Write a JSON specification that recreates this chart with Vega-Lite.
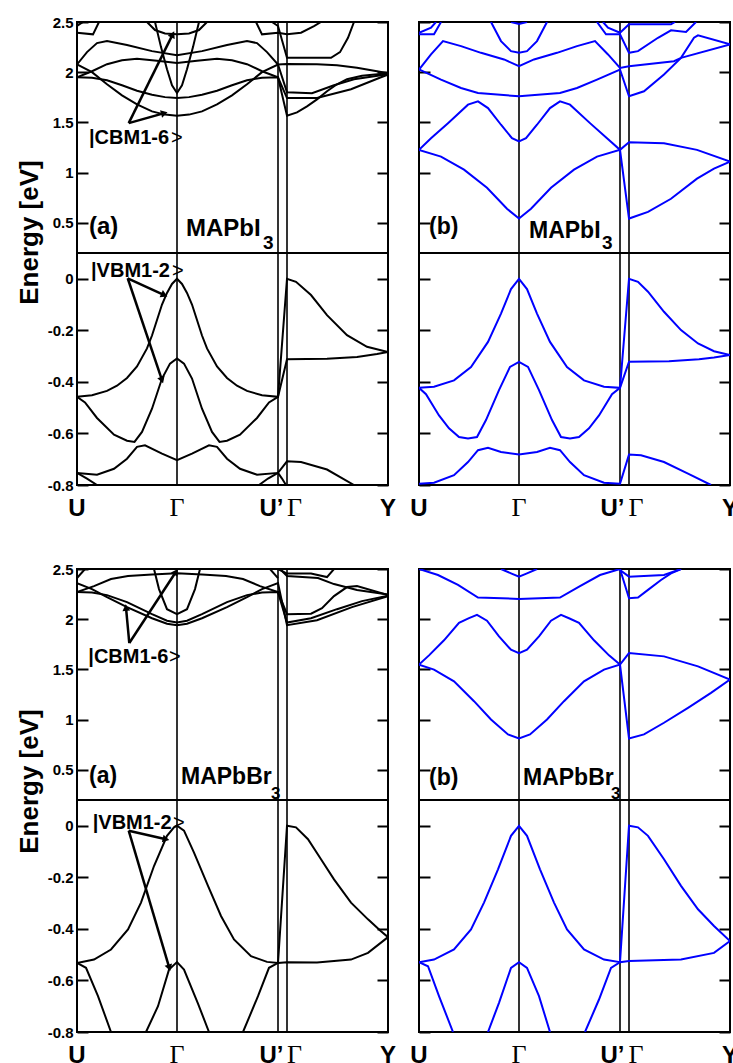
{
"$schema": "https://vega.github.io/schema/vega-lite/v6.json",
"background": "white",
"padding": {"left": 15, "top": 14, "right": 0, "bottom": 0},
"config": {"view": {"stroke": "black", "strokeWidth": 2}, "axis": {"labelColor": "black", "tickColor": "black"}},
"datasets": {
"kpath": [{"x":1},{"x":2.01},{"x":2.1}],
"klabSans": [{"col":"a","text":"U","x":0},{"col":"a","text":"U’","x":1.945},{"col":"a","text":"Y","x":3.11},{"col":"b","text":"U","x":0},{"col":"b","text":"U’","x":1.935},{"col":"b","text":"Y","x":3.11}],
"klabSerif": [{"col":"a","text":"Γ","x":1},{"col":"a","text":"Γ","x":2.175},{"col":"b","text":"Γ","x":1},{"col":"b","text":"Γ","x":2.17}],
"titles": [
{"fig":"I","col":"a","text":"(a)","x":0.12,"e":0.389},{"fig":"I","col":"a","text":"MAPbI","x":1.09,"e":0.369},
{"fig":"I","col":"b","text":"(b)","x":0.10,"e":0.389},{"fig":"I","col":"b","text":"MAPbI","x":1.10,"e":0.352},
{"fig":"Br","col":"a","text":"(a)","x":0.12,"e":0.372},{"fig":"Br","col":"a","text":"MAPbBr","x":1.04,"e":0.356},
{"fig":"Br","col":"b","text":"(b)","x":0.10,"e":0.349},{"fig":"Br","col":"b","text":"MAPbBr","x":1.04,"e":0.349}],
"subs": [
{"fig":"I","col":"a","text":"3","x":1.86,"e":0.24},{"fig":"I","col":"b","text":"3","x":1.83,"e":0.24},
{"fig":"Br","col":"a","text":"3","x":1.94,"e":0.205},{"fig":"Br","col":"b","text":"3","x":1.92,"e":0.205}],
"kets": [
{"fig":"I","part":"C","text":"|CBM1-6","x":0.12,"e":1.282},{"fig":"I","part":"V","text":"|VBM1-2","x":0.14,"e":0.008},
{"fig":"Br","part":"C","text":"|CBM1-6","x":0.113,"e":1.561},{"fig":"Br","part":"V","text":"|VBM1-2","x":0.157,"e":-0.014}],
"ketends": [
{"fig":"I","part":"C","text":">","x":0.94,"e":1.282},{"fig":"I","part":"V","text":">","x":0.95,"e":0.008},
{"fig":"Br","part":"C","text":">","x":0.92,"e":1.561},{"fig":"Br","part":"V","text":">","x":0.96,"e":-0.014}],
"arrows": [
{"fig":"I","part":"C","x":0.517,"e":1.493,"x2":0.957,"e2":2.377,"angle":26.5},
{"fig":"I","part":"C","x":0.517,"e":1.493,"x2":0.873,"e2":1.593,"angle":74.3},
{"fig":"I","part":"V","x":0.507,"e":0.002,"x2":0.873,"e2":-0.063,"angle":114.5},
{"fig":"I","part":"V","x":0.507,"e":0.002,"x2":0.85,"e2":-0.393,"angle":161.4},
{"fig":"Br","part":"C","x":0.523,"e":1.763,"x2":0.49,"e2":2.116,"angle":-5.3},
{"fig":"Br","part":"C","x":0.523,"e":1.763,"x2":0.99,"e2":2.473,"angle":33.1},
{"fig":"Br","part":"V","x":0.517,"e":-0.019,"x2":0.89,"e2":-0.052,"angle":102.5},
{"fig":"Br","part":"V","x":0.517,"e":-0.019,"x2":0.923,"e2":-0.551,"angle":163.4}],
"IaC": [
{"band":1,"x":0,"e":2.077},{"band":1,"x":0.15,"e":2.0},{"band":1,"x":0.3,"e":1.88},{"band":1,"x":0.45,"e":1.77},{"band":1,"x":0.6,"e":1.68},{"band":1,"x":0.75,"e":1.61},{"band":1,"x":0.88,"e":1.578},{"band":1,"x":1.0,"e":1.567},{"band":1,"x":1.12,"e":1.578},{"band":1,"x":1.25,"e":1.61},{"band":1,"x":1.4,"e":1.68},{"band":1,"x":1.55,"e":1.77},{"band":1,"x":1.7,"e":1.88},{"band":1,"x":1.85,"e":2.0},{"band":1,"x":2.01,"e":2.077},{"band":1,"x":2.1,"e":2.083},{"band":1,"x":2.4,"e":2.08},{"band":1,"x":2.6,"e":2.07},{"band":1,"x":2.8,"e":2.045},{"band":1,"x":3.0,"e":2.01},{"band":1,"x":3.11,"e":1.99},
{"band":2,"x":0,"e":1.95},{"band":2,"x":0.15,"e":1.945},{"band":2,"x":0.3,"e":1.92},{"band":2,"x":0.45,"e":1.87},{"band":2,"x":0.6,"e":1.815},{"band":2,"x":0.75,"e":1.775},{"band":2,"x":0.88,"e":1.752},{"band":2,"x":1.0,"e":1.743},{"band":2,"x":1.12,"e":1.752},{"band":2,"x":1.25,"e":1.775},{"band":2,"x":1.4,"e":1.815},{"band":2,"x":1.55,"e":1.87},{"band":2,"x":1.7,"e":1.92},{"band":2,"x":1.85,"e":1.945},{"band":2,"x":2.01,"e":1.95},{"band":2,"x":2.1,"e":1.567},{"band":2,"x":2.2,"e":1.6},{"band":2,"x":2.3,"e":1.66},{"band":2,"x":2.4,"e":1.73},{"band":2,"x":2.5,"e":1.81},{"band":2,"x":2.6,"e":1.88},{"band":2,"x":2.7,"e":1.93},{"band":2,"x":2.85,"e":1.965},{"band":2,"x":3.11,"e":1.99},
{"band":3,"x":0,"e":2.077},{"band":3,"x":0.1,"e":2.2},{"band":3,"x":0.2,"e":2.29},{"band":3,"x":0.3,"e":2.31},{"band":3,"x":0.5,"e":2.27},{"band":3,"x":0.75,"e":2.21},{"band":3,"x":1.0,"e":2.17},{"band":3,"x":1.25,"e":2.21},{"band":3,"x":1.5,"e":2.27},{"band":3,"x":1.7,"e":2.31},{"band":3,"x":1.8,"e":2.29},{"band":3,"x":1.9,"e":2.2},{"band":3,"x":2.01,"e":2.077},{"band":3,"x":2.1,"e":1.8},{"band":3,"x":2.35,"e":1.79},{"band":3,"x":2.57,"e":1.87},{"band":3,"x":2.77,"e":1.93},{"band":3,"x":3.04,"e":1.97},{"band":3,"x":3.11,"e":1.98},
{"band":4,"x":0,"e":1.95},{"band":4,"x":0.15,"e":2.01},{"band":4,"x":0.3,"e":2.08},{"band":4,"x":0.45,"e":2.12},{"band":4,"x":0.6,"e":2.135},{"band":4,"x":0.8,"e":2.115},{"band":4,"x":1.0,"e":2.093},{"band":4,"x":1.2,"e":2.115},{"band":4,"x":1.4,"e":2.135},{"band":4,"x":1.55,"e":2.12},{"band":4,"x":1.7,"e":2.08},{"band":4,"x":1.85,"e":2.01},{"band":4,"x":2.01,"e":1.95},{"band":4,"x":2.1,"e":1.743},{"band":4,"x":2.4,"e":1.743},{"band":4,"x":2.74,"e":1.83},{"band":4,"x":3.04,"e":1.95},{"band":4,"x":3.11,"e":1.975},
{"band":5,"x":0.78,"e":2.5},{"band":5,"x":0.84,"e":2.25},{"band":5,"x":0.9,"e":2.03},{"band":5,"x":0.95,"e":1.87},{"band":5,"x":1.0,"e":1.793},{"band":5,"x":1.05,"e":1.87},{"band":5,"x":1.1,"e":2.03},{"band":5,"x":1.16,"e":2.25},{"band":5,"x":1.22,"e":2.5},
{"band":6,"x":0.7,"e":2.5},{"band":6,"x":0.78,"e":2.42},{"band":6,"x":0.88,"e":2.385},{"band":6,"x":1.0,"e":2.377},{"band":6,"x":1.12,"e":2.385},{"band":6,"x":1.22,"e":2.42},{"band":6,"x":1.3,"e":2.5},
{"band":7,"x":0,"e":2.393},{"band":7,"x":0.16,"e":2.377},{"band":7,"x":0.22,"e":2.5},
{"band":8,"x":0,"e":2.46},{"band":8,"x":0.06,"e":2.5},
{"band":9,"x":1.79,"e":2.5},{"band":9,"x":1.85,"e":2.377},{"band":9,"x":2.01,"e":2.393},{"band":9,"x":2.1,"e":2.377},{"band":9,"x":2.24,"e":2.393},{"band":9,"x":2.37,"e":2.46},{"band":9,"x":2.44,"e":2.5},
{"band":10,"x":1.95,"e":2.5},{"band":10,"x":2.01,"e":2.46},{"band":10,"x":2.1,"e":2.143},{"band":10,"x":2.54,"e":2.143},{"band":10,"x":2.63,"e":2.2},{"band":10,"x":2.71,"e":2.343},{"band":10,"x":2.77,"e":2.5}],
"IaV": [
{"band":1,"x":0,"e":-0.458},{"band":1,"x":0.15,"e":-0.452},{"band":1,"x":0.3,"e":-0.435},{"band":1,"x":0.4,"e":-0.415},{"band":1,"x":0.5,"e":-0.385},{"band":1,"x":0.6,"e":-0.34},{"band":1,"x":0.7,"e":-0.27},{"band":1,"x":0.75,"e":-0.22},{"band":1,"x":0.8,"e":-0.16},{"band":1,"x":0.85,"e":-0.1},{"band":1,"x":0.9,"e":-0.055},{"band":1,"x":0.95,"e":-0.02},{"band":1,"x":1.0,"e":0},{"band":1,"x":1.05,"e":-0.02},{"band":1,"x":1.1,"e":-0.055},{"band":1,"x":1.15,"e":-0.1},{"band":1,"x":1.2,"e":-0.16},{"band":1,"x":1.25,"e":-0.22},{"band":1,"x":1.3,"e":-0.27},{"band":1,"x":1.4,"e":-0.34},{"band":1,"x":1.5,"e":-0.385},{"band":1,"x":1.6,"e":-0.415},{"band":1,"x":1.7,"e":-0.435},{"band":1,"x":1.85,"e":-0.452},{"band":1,"x":2.01,"e":-0.458},{"band":1,"x":2.1,"e":0},{"band":1,"x":2.19,"e":-0.012},{"band":1,"x":2.34,"e":-0.063},{"band":1,"x":2.5,"e":-0.141},{"band":1,"x":2.7,"e":-0.219},{"band":1,"x":2.9,"e":-0.264},{"band":1,"x":3.11,"e":-0.284},
{"band":2,"x":0,"e":-0.458},{"band":2,"x":0.08,"e":-0.48},{"band":2,"x":0.2,"e":-0.54},{"band":2,"x":0.37,"e":-0.605},{"band":2,"x":0.5,"e":-0.628},{"band":2,"x":0.575,"e":-0.633},{"band":2,"x":0.65,"e":-0.594},{"band":2,"x":0.75,"e":-0.504},{"band":2,"x":0.85,"e":-0.387},{"band":2,"x":0.93,"e":-0.329},{"band":2,"x":1.0,"e":-0.309},{"band":2,"x":1.07,"e":-0.329},{"band":2,"x":1.15,"e":-0.387},{"band":2,"x":1.25,"e":-0.504},{"band":2,"x":1.35,"e":-0.594},{"band":2,"x":1.425,"e":-0.633},{"band":2,"x":1.5,"e":-0.628},{"band":2,"x":1.63,"e":-0.605},{"band":2,"x":1.8,"e":-0.54},{"band":2,"x":1.92,"e":-0.48},{"band":2,"x":2.01,"e":-0.458},{"band":2,"x":2.1,"e":-0.312},{"band":2,"x":2.5,"e":-0.31},{"band":2,"x":2.8,"e":-0.303},{"band":2,"x":3.0,"e":-0.292},{"band":2,"x":3.11,"e":-0.284},
{"band":3,"x":0,"e":-0.753},{"band":3,"x":0.2,"e":-0.76},{"band":3,"x":0.37,"e":-0.737},{"band":3,"x":0.5,"e":-0.698},{"band":3,"x":0.6,"e":-0.652},{"band":3,"x":0.68,"e":-0.646},{"band":3,"x":0.85,"e":-0.678},{"band":3,"x":1.0,"e":-0.704},{"band":3,"x":1.15,"e":-0.678},{"band":3,"x":1.32,"e":-0.646},{"band":3,"x":1.4,"e":-0.652},{"band":3,"x":1.5,"e":-0.698},{"band":3,"x":1.63,"e":-0.737},{"band":3,"x":1.8,"e":-0.76},{"band":3,"x":2.01,"e":-0.753},{"band":3,"x":2.1,"e":-0.708},{"band":3,"x":2.24,"e":-0.711},{"band":3,"x":2.5,"e":-0.74},{"band":3,"x":2.77,"e":-0.8},
{"band":4,"x":0,"e":-0.753},{"band":4,"x":0.1,"e":-0.775},{"band":4,"x":0.2,"e":-0.8},
{"band":5,"x":1.82,"e":-0.8},{"band":5,"x":1.91,"e":-0.775},{"band":5,"x":2.01,"e":-0.753},{"band":5,"x":2.05,"e":-0.775},{"band":5,"x":2.09,"e":-0.8}],
"IbC": [
{"band":1,"x":0,"e":1.227},{"band":1,"x":0.22,"e":1.16},{"band":1,"x":0.45,"e":1.03},{"band":1,"x":0.68,"e":0.85},{"band":1,"x":0.88,"e":0.64},{"band":1,"x":1.0,"e":0.543},{"band":1,"x":1.12,"e":0.64},{"band":1,"x":1.32,"e":0.85},{"band":1,"x":1.55,"e":1.03},{"band":1,"x":1.78,"e":1.16},{"band":1,"x":2.01,"e":1.227},{"band":1,"x":2.1,"e":0.543},{"band":1,"x":2.29,"e":0.61},{"band":1,"x":2.52,"e":0.74},{"band":1,"x":2.78,"e":0.94},{"band":1,"x":2.95,"e":1.04},{"band":1,"x":3.11,"e":1.11},
{"band":2,"x":0,"e":1.227},{"band":2,"x":0.12,"e":1.343},{"band":2,"x":0.29,"e":1.493},{"band":2,"x":0.49,"e":1.677},{"band":2,"x":0.59,"e":1.71},{"band":2,"x":0.69,"e":1.643},{"band":2,"x":0.82,"e":1.477},{"band":2,"x":0.93,"e":1.343},{"band":2,"x":1.0,"e":1.31},{"band":2,"x":1.07,"e":1.343},{"band":2,"x":1.18,"e":1.477},{"band":2,"x":1.31,"e":1.643},{"band":2,"x":1.41,"e":1.71},{"band":2,"x":1.51,"e":1.677},{"band":2,"x":1.71,"e":1.493},{"band":2,"x":1.88,"e":1.343},{"band":2,"x":2.01,"e":1.227},{"band":2,"x":2.1,"e":1.303},{"band":2,"x":2.45,"e":1.293},{"band":2,"x":2.78,"e":1.227},{"band":2,"x":3.11,"e":1.11},
{"band":3,"x":0,"e":2.027},{"band":3,"x":0.22,"e":1.927},{"band":3,"x":0.42,"e":1.843},{"band":3,"x":0.59,"e":1.793},{"band":3,"x":1.0,"e":1.76},{"band":3,"x":1.41,"e":1.793},{"band":3,"x":1.58,"e":1.843},{"band":3,"x":1.78,"e":1.927},{"band":3,"x":2.01,"e":2.027},{"band":3,"x":2.1,"e":1.76},{"band":3,"x":2.25,"e":1.81},{"band":3,"x":2.45,"e":1.977},{"band":3,"x":2.62,"e":2.143},{"band":3,"x":2.75,"e":2.343},{"band":3,"x":2.79,"e":2.367},{"band":3,"x":3.11,"e":2.277},
{"band":4,"x":0,"e":2.027},{"band":4,"x":0.12,"e":2.177},{"band":4,"x":0.24,"e":2.31},{"band":4,"x":0.42,"e":2.26},{"band":4,"x":0.62,"e":2.193},{"band":4,"x":0.85,"e":2.127},{"band":4,"x":1.0,"e":2.06},{"band":4,"x":1.15,"e":2.127},{"band":4,"x":1.38,"e":2.193},{"band":4,"x":1.58,"e":2.26},{"band":4,"x":1.76,"e":2.31},{"band":4,"x":1.89,"e":2.177},{"band":4,"x":2.01,"e":2.043},{"band":4,"x":2.1,"e":2.06},{"band":4,"x":2.55,"e":2.11},{"band":4,"x":2.62,"e":2.143},{"band":4,"x":3.11,"e":2.277},
{"band":5,"x":0.72,"e":2.5},{"band":5,"x":0.82,"e":2.31},{"band":5,"x":0.92,"e":2.21},{"band":5,"x":1.0,"e":2.193},{"band":5,"x":1.08,"e":2.21},{"band":5,"x":1.18,"e":2.31},{"band":5,"x":1.28,"e":2.5},
{"band":6,"x":0.92,"e":2.5},{"band":6,"x":1.0,"e":2.48},{"band":6,"x":1.08,"e":2.5},
{"band":7,"x":0,"e":2.377},{"band":7,"x":0.15,"e":2.377},{"band":7,"x":0.22,"e":2.5},
{"band":8,"x":0,"e":2.393},{"band":8,"x":0.12,"e":2.443},{"band":8,"x":0.17,"e":2.5},
{"band":9,"x":1.78,"e":2.5},{"band":9,"x":1.87,"e":2.377},{"band":9,"x":2.01,"e":2.377},{"band":9,"x":2.1,"e":2.193},{"band":9,"x":2.19,"e":2.21},{"band":9,"x":2.39,"e":2.343},{"band":9,"x":2.52,"e":2.417},{"band":9,"x":2.67,"e":2.4},{"band":9,"x":2.77,"e":2.5},
{"band":10,"x":1.84,"e":2.5},{"band":10,"x":1.89,"e":2.443},{"band":10,"x":2.01,"e":2.393},{"band":10,"x":2.1,"e":2.477},{"band":10,"x":2.52,"e":2.477},{"band":10,"x":2.56,"e":2.5}],
"IbV": [
{"band":1,"x":0,"e":-0.423},{"band":1,"x":0.15,"e":-0.419},{"band":1,"x":0.35,"e":-0.394},{"band":1,"x":0.52,"e":-0.342},{"band":1,"x":0.69,"e":-0.245},{"band":1,"x":0.82,"e":-0.135},{"band":1,"x":0.92,"e":-0.04},{"band":1,"x":1.0,"e":0},{"band":1,"x":1.08,"e":-0.04},{"band":1,"x":1.18,"e":-0.135},{"band":1,"x":1.31,"e":-0.245},{"band":1,"x":1.48,"e":-0.342},{"band":1,"x":1.65,"e":-0.394},{"band":1,"x":1.85,"e":-0.419},{"band":1,"x":2.01,"e":-0.423},{"band":1,"x":2.1,"e":0},{"band":1,"x":2.19,"e":-0.012},{"band":1,"x":2.29,"e":-0.05},{"band":1,"x":2.45,"e":-0.128},{"band":1,"x":2.62,"e":-0.199},{"band":1,"x":2.79,"e":-0.251},{"band":1,"x":2.95,"e":-0.281},{"band":1,"x":3.11,"e":-0.296},
{"band":2,"x":0,"e":-0.423},{"band":2,"x":0.07,"e":-0.448},{"band":2,"x":0.2,"e":-0.53},{"band":2,"x":0.3,"e":-0.58},{"band":2,"x":0.4,"e":-0.614},{"band":2,"x":0.49,"e":-0.62},{"band":2,"x":0.58,"e":-0.614},{"band":2,"x":0.67,"e":-0.548},{"band":2,"x":0.8,"e":-0.432},{"band":2,"x":0.91,"e":-0.342},{"band":2,"x":1.0,"e":-0.322},{"band":2,"x":1.09,"e":-0.342},{"band":2,"x":1.2,"e":-0.432},{"band":2,"x":1.33,"e":-0.548},{"band":2,"x":1.42,"e":-0.614},{"band":2,"x":1.51,"e":-0.62},{"band":2,"x":1.6,"e":-0.614},{"band":2,"x":1.7,"e":-0.58},{"band":2,"x":1.8,"e":-0.53},{"band":2,"x":1.93,"e":-0.448},{"band":2,"x":2.01,"e":-0.423},{"band":2,"x":2.1,"e":-0.322},{"band":2,"x":2.5,"e":-0.32},{"band":2,"x":2.8,"e":-0.312},{"band":2,"x":2.95,"e":-0.305},{"band":2,"x":3.11,"e":-0.296},
{"band":3,"x":0,"e":-0.795},{"band":3,"x":0.15,"e":-0.791},{"band":3,"x":0.35,"e":-0.762},{"band":3,"x":0.49,"e":-0.711},{"band":3,"x":0.59,"e":-0.665},{"band":3,"x":0.69,"e":-0.656},{"band":3,"x":0.82,"e":-0.672},{"band":3,"x":1.0,"e":-0.682},{"band":3,"x":1.18,"e":-0.672},{"band":3,"x":1.31,"e":-0.656},{"band":3,"x":1.41,"e":-0.665},{"band":3,"x":1.51,"e":-0.711},{"band":3,"x":1.65,"e":-0.762},{"band":3,"x":1.85,"e":-0.791},{"band":3,"x":2.01,"e":-0.795},{"band":3,"x":2.1,"e":-0.682},{"band":3,"x":2.22,"e":-0.685},{"band":3,"x":2.45,"e":-0.711},{"band":3,"x":2.69,"e":-0.756},{"band":3,"x":2.92,"e":-0.8}],
"BraC": [
{"band":1,"x":0,"e":2.36},{"band":1,"x":0.15,"e":2.3},{"band":1,"x":0.3,"e":2.22},{"band":1,"x":0.5,"e":2.12},{"band":1,"x":0.75,"e":2.01},{"band":1,"x":0.9,"e":1.955},{"band":1,"x":1.0,"e":1.941},{"band":1,"x":1.1,"e":1.955},{"band":1,"x":1.25,"e":2.01},{"band":1,"x":1.5,"e":2.12},{"band":1,"x":1.7,"e":2.22},{"band":1,"x":1.85,"e":2.3},{"band":1,"x":2.01,"e":2.36},{"band":1,"x":2.1,"e":1.941},{"band":1,"x":2.4,"e":1.99},{"band":1,"x":2.75,"e":2.12},{"band":1,"x":3.11,"e":2.23},
{"band":2,"x":0,"e":2.27},{"band":2,"x":0.15,"e":2.265},{"band":2,"x":0.3,"e":2.24},{"band":2,"x":0.5,"e":2.17},{"band":2,"x":0.75,"e":2.05},{"band":2,"x":0.9,"e":1.985},{"band":2,"x":1.0,"e":1.967},{"band":2,"x":1.1,"e":1.985},{"band":2,"x":1.25,"e":2.05},{"band":2,"x":1.5,"e":2.17},{"band":2,"x":1.7,"e":2.24},{"band":2,"x":1.85,"e":2.265},{"band":2,"x":2.01,"e":2.27},{"band":2,"x":2.1,"e":2.05},{"band":2,"x":2.34,"e":2.055},{"band":2,"x":2.45,"e":2.11},{"band":2,"x":2.57,"e":2.23},{"band":2,"x":2.7,"e":2.32},{"band":2,"x":2.8,"e":2.33},{"band":2,"x":3.11,"e":2.24},
{"band":3,"x":0,"e":2.27},{"band":3,"x":0.17,"e":2.33},{"band":3,"x":0.34,"e":2.4},{"band":3,"x":0.51,"e":2.43},{"band":3,"x":0.75,"e":2.445},{"band":3,"x":1.0,"e":2.457},{"band":3,"x":1.25,"e":2.445},{"band":3,"x":1.49,"e":2.43},{"band":3,"x":1.66,"e":2.4},{"band":3,"x":1.83,"e":2.33},{"band":3,"x":2.01,"e":2.27},{"band":3,"x":2.1,"e":1.967},{"band":3,"x":2.34,"e":2.01},{"band":3,"x":2.6,"e":2.1},{"band":3,"x":2.85,"e":2.18},{"band":3,"x":3.11,"e":2.235},
{"band":4,"x":0.77,"e":2.5},{"band":4,"x":0.82,"e":2.3},{"band":4,"x":0.9,"e":2.1},{"band":4,"x":1.0,"e":2.05},{"band":4,"x":1.1,"e":2.1},{"band":4,"x":1.18,"e":2.3},{"band":4,"x":1.23,"e":2.5},
{"band":5,"x":2.01,"e":2.5},{"band":5,"x":2.1,"e":2.455},{"band":5,"x":2.34,"e":2.455},{"band":5,"x":2.5,"e":2.42},{"band":5,"x":2.57,"e":2.5},
{"band":6,"x":2.03,"e":2.5},{"band":6,"x":2.1,"e":2.43},{"band":6,"x":2.41,"e":2.41},{"band":6,"x":2.57,"e":2.35},{"band":6,"x":2.8,"e":2.29},{"band":6,"x":3.11,"e":2.245},
{"band":7,"x":0,"e":2.41},{"band":7,"x":0.08,"e":2.5},
{"band":8,"x":1.93,"e":2.5},{"band":8,"x":2.01,"e":2.41}],
"BraV": [
{"band":1,"x":0,"e":-0.532},{"band":1,"x":0.17,"e":-0.519},{"band":1,"x":0.34,"e":-0.48},{"band":1,"x":0.51,"e":-0.402},{"band":1,"x":0.64,"e":-0.298},{"band":1,"x":0.77,"e":-0.156},{"band":1,"x":0.9,"e":-0.039},{"band":1,"x":0.97,"e":-0.006},{"band":1,"x":1.0,"e":0},{"band":1,"x":1.07,"e":-0.019},{"band":1,"x":1.17,"e":-0.104},{"band":1,"x":1.31,"e":-0.233},{"band":1,"x":1.44,"e":-0.35},{"band":1,"x":1.57,"e":-0.441},{"band":1,"x":1.74,"e":-0.506},{"band":1,"x":1.9,"e":-0.528},{"band":1,"x":2.01,"e":-0.532},{"band":1,"x":2.1,"e":0},{"band":1,"x":2.19,"e":-0.006},{"band":1,"x":2.31,"e":-0.052},{"band":1,"x":2.44,"e":-0.13},{"band":1,"x":2.57,"e":-0.208},{"band":1,"x":2.74,"e":-0.298},{"band":1,"x":2.91,"e":-0.363},{"band":1,"x":3.04,"e":-0.409},{"band":1,"x":3.11,"e":-0.432},
{"band":2,"x":0,"e":-0.532},{"band":2,"x":0.09,"e":-0.551},{"band":2,"x":0.21,"e":-0.661},{"band":2,"x":0.34,"e":-0.8},
{"band":3,"x":0.69,"e":-0.8},{"band":3,"x":0.81,"e":-0.7},{"band":3,"x":0.92,"e":-0.558},{"band":3,"x":1.0,"e":-0.529},{"band":3,"x":1.07,"e":-0.558},{"band":3,"x":1.21,"e":-0.69},{"band":3,"x":1.32,"e":-0.8},
{"band":4,"x":1.66,"e":-0.8},{"band":4,"x":1.81,"e":-0.661},{"band":4,"x":1.92,"e":-0.551},{"band":4,"x":2.01,"e":-0.532},{"band":4,"x":2.1,"e":-0.529},{"band":4,"x":2.4,"e":-0.53},{"band":4,"x":2.74,"e":-0.519},{"band":4,"x":2.91,"e":-0.493},{"band":4,"x":3.11,"e":-0.432}],
"BrbC": [
{"band":1,"x":0,"e":1.548},{"band":1,"x":0.15,"e":1.498},{"band":1,"x":0.35,"e":1.382},{"band":1,"x":0.55,"e":1.184},{"band":1,"x":0.72,"e":1.002},{"band":1,"x":0.89,"e":0.853},{"band":1,"x":1.0,"e":0.813},{"band":1,"x":1.11,"e":0.853},{"band":1,"x":1.28,"e":1.002},{"band":1,"x":1.45,"e":1.184},{"band":1,"x":1.65,"e":1.382},{"band":1,"x":1.85,"e":1.498},{"band":1,"x":2.01,"e":1.548},{"band":1,"x":2.1,"e":0.813},{"band":1,"x":2.25,"e":0.853},{"band":1,"x":2.45,"e":0.969},{"band":1,"x":2.69,"e":1.118},{"band":1,"x":2.92,"e":1.267},{"band":1,"x":3.11,"e":1.399},
{"band":2,"x":0,"e":1.548},{"band":2,"x":0.1,"e":1.64},{"band":2,"x":0.25,"e":1.79},{"band":2,"x":0.4,"e":1.965},{"band":2,"x":0.5,"e":2.01},{"band":2,"x":0.58,"e":2.044},{"band":2,"x":0.68,"e":1.985},{"band":2,"x":0.8,"e":1.83},{"band":2,"x":0.92,"e":1.696},{"band":2,"x":1.0,"e":1.663},{"band":2,"x":1.08,"e":1.696},{"band":2,"x":1.2,"e":1.83},{"band":2,"x":1.32,"e":1.985},{"band":2,"x":1.42,"e":2.044},{"band":2,"x":1.5,"e":2.01},{"band":2,"x":1.6,"e":1.965},{"band":2,"x":1.75,"e":1.79},{"band":2,"x":1.9,"e":1.64},{"band":2,"x":2.01,"e":1.548},{"band":2,"x":2.1,"e":1.663},{"band":2,"x":2.45,"e":1.63},{"band":2,"x":2.79,"e":1.531},{"band":2,"x":3.11,"e":1.399},
{"band":3,"x":0,"e":2.5},{"band":3,"x":0.19,"e":2.44},{"band":3,"x":0.39,"e":2.341},{"band":3,"x":0.59,"e":2.216},{"band":3,"x":1.0,"e":2.202},{"band":3,"x":1.41,"e":2.216},{"band":3,"x":1.61,"e":2.33},{"band":3,"x":1.81,"e":2.44},{"band":3,"x":2.01,"e":2.5},{"band":3,"x":2.1,"e":2.209},{"band":3,"x":2.19,"e":2.216},{"band":3,"x":2.29,"e":2.292},{"band":3,"x":2.42,"e":2.391},{"band":3,"x":2.52,"e":2.457},{"band":3,"x":2.62,"e":2.5},
{"band":4,"x":0.82,"e":2.5},{"band":4,"x":0.92,"e":2.457},{"band":4,"x":1.0,"e":2.424},{"band":4,"x":1.08,"e":2.457},{"band":4,"x":1.18,"e":2.5},
{"band":5,"x":2.01,"e":2.49},{"band":5,"x":2.1,"e":2.424},{"band":5,"x":2.45,"e":2.44},{"band":5,"x":2.62,"e":2.5}],
"BrbV": [
{"band":1,"x":0,"e":-0.529},{"band":1,"x":0.15,"e":-0.519},{"band":1,"x":0.35,"e":-0.48},{"band":1,"x":0.52,"e":-0.402},{"band":1,"x":0.65,"e":-0.298},{"band":1,"x":0.79,"e":-0.169},{"band":1,"x":0.92,"e":-0.039},{"band":1,"x":1.0,"e":0},{"band":1,"x":1.08,"e":-0.039},{"band":1,"x":1.21,"e":-0.169},{"band":1,"x":1.35,"e":-0.298},{"band":1,"x":1.48,"e":-0.402},{"band":1,"x":1.65,"e":-0.48},{"band":1,"x":1.85,"e":-0.519},{"band":1,"x":2.01,"e":-0.529},{"band":1,"x":2.1,"e":0},{"band":1,"x":2.19,"e":-0.006},{"band":1,"x":2.29,"e":-0.039},{"band":1,"x":2.45,"e":-0.13},{"band":1,"x":2.62,"e":-0.233},{"band":1,"x":2.79,"e":-0.324},{"band":1,"x":2.95,"e":-0.389},{"band":1,"x":3.11,"e":-0.447},
{"band":2,"x":0,"e":-0.529},{"band":2,"x":0.09,"e":-0.545},{"band":2,"x":0.2,"e":-0.661},{"band":2,"x":0.34,"e":-0.8},
{"band":3,"x":0.69,"e":-0.8},{"band":3,"x":0.8,"e":-0.687},{"band":3,"x":0.92,"e":-0.551},{"band":3,"x":1.0,"e":-0.529},{"band":3,"x":1.08,"e":-0.551},{"band":3,"x":1.2,"e":-0.661},{"band":3,"x":1.31,"e":-0.8},
{"band":4,"x":1.66,"e":-0.8},{"band":4,"x":1.8,"e":-0.674},{"band":4,"x":1.92,"e":-0.551},{"band":4,"x":2.01,"e":-0.529},{"band":4,"x":2.1,"e":-0.525},{"band":4,"x":2.62,"e":-0.519},{"band":4,"x":2.95,"e":-0.493},{"band":4,"x":3.11,"e":-0.447}]
},
"spacing": 39,
"vconcat": [
{"columns": 2, "spacing": {"row": 0, "column": 31}, "bounds": "flush", "concat": [
  {"width": 311, "height": 231, "resolve": {"axis": {"y": "independent"}}, "layer": [
   {"data": {"name": "kpath"}, "mark": {"type": "rule", "color": "black", "strokeWidth": 1.6}, "encoding": {"x": {"field": "x", "type": "quantitative", "scale": {"domain": [0, 3.11], "nice": false, "zero": false}, "axis": null}}},
   {"data": {"name": "IaC"}, "mark": {"type": "line", "color": "black", "strokeWidth": 2, "clip": true}, "encoding": {"x": {"field": "x", "type": "quantitative", "scale": {"domain": [0, 3.11], "nice": false, "zero": false}, "axis": null}, "y": {"field": "e", "type": "quantitative", "scale": {"domain": [0.2, 2.5], "nice": false, "zero": false}, "axis": {"orient": "left", "values": [0.5, 1, 1.5, 2, 2.5], "labelExpr": "'' + datum.value", "tickSize": -11, "tickWidth": 2, "tickColor": "black", "domain": false, "grid": false, "labelFont": "Liberation Sans", "labelFontSize": 15, "labelFontWeight": "bold", "labelColor": "black", "labelPadding": 15, "title": "Energy [eV]", "titleFont": "Liberation Sans", "titleFontSize": 26, "titleFontWeight": "bold", "titleColor": "black", "titleX": -40, "titleY": 210, "titleAngle": -90, "titleAlign": "center", "titleBaseline": "alphabetic"}}, "detail": {"field": "band", "type": "nominal"}}},
   {"data": {"name": "IaC"}, "mark": {"type": "point", "opacity": 0}, "encoding": {"x": {"field": "x", "type": "quantitative", "scale": {"domain": [0, 3.11], "nice": false, "zero": false}, "axis": null}, "y": {"field": "e", "type": "quantitative", "scale": {"domain": [0.2, 2.5], "nice": false, "zero": false}, "axis": {"orient": "right", "values": [0.5, 1, 1.5, 2, 2.5], "labels": false, "tickSize": -11, "tickWidth": 2, "tickColor": "black", "domain": false, "grid": false, "title": null}}}},
   {"data": {"name": "titles"}, "transform": [{"filter": "datum.fig == 'I' && datum.col == 'a'"}], "mark": {"type": "text", "align": "left", "baseline": "alphabetic", "font": "Liberation Sans", "fontSize": 24, "fontWeight": "bold", "color": "black"}, "encoding": {"x": {"field": "x", "type": "quantitative", "scale": {"domain": [0, 3.11], "nice": false, "zero": false}, "axis": null}, "y": {"field": "e", "type": "quantitative", "scale": {"domain": [0.2, 2.5], "nice": false, "zero": false}, "axis": null}, "text": {"field": "text"}}},
   {"data": {"name": "subs"}, "transform": [{"filter": "datum.fig == 'I' && datum.col == 'a'"}], "mark": {"type": "text", "align": "left", "baseline": "alphabetic", "font": "Liberation Sans", "fontSize": 19, "fontWeight": "bold", "color": "black"}, "encoding": {"x": {"field": "x", "type": "quantitative", "scale": {"domain": [0, 3.11], "nice": false, "zero": false}, "axis": null}, "y": {"field": "e", "type": "quantitative", "scale": {"domain": [0.2, 2.5], "nice": false, "zero": false}, "axis": null}, "text": {"field": "text"}}},
   {"data": {"name": "kets"}, "transform": [{"filter": "datum.fig == 'I' && datum.part == 'C'"}], "mark": {"type": "text", "align": "left", "baseline": "alphabetic", "font": "Liberation Sans", "fontSize": 20, "fontWeight": "bold", "color": "black"}, "encoding": {"x": {"field": "x", "type": "quantitative", "scale": {"domain": [0, 3.11], "nice": false, "zero": false}, "axis": null}, "y": {"field": "e", "type": "quantitative", "scale": {"domain": [0.2, 2.5], "nice": false, "zero": false}, "axis": null}, "text": {"field": "text"}}},
   {"data": {"name": "ketends"}, "transform": [{"filter": "datum.fig == 'I' && datum.part == 'C'"}], "mark": {"type": "text", "align": "left", "baseline": "alphabetic", "font": "Liberation Sans", "fontSize": 20, "fontWeight": "normal", "color": "black"}, "encoding": {"x": {"field": "x", "type": "quantitative", "scale": {"domain": [0, 3.11], "nice": false, "zero": false}, "axis": null}, "y": {"field": "e", "type": "quantitative", "scale": {"domain": [0.2, 2.5], "nice": false, "zero": false}, "axis": null}, "text": {"field": "text"}}},
   {"data": {"name": "arrows"}, "transform": [{"filter": "datum.fig == 'I' && datum.part == 'C'"}], "mark": {"type": "rule", "color": "black", "strokeWidth": 2.5}, "encoding": {"x": {"field": "x", "type": "quantitative", "scale": {"domain": [0, 3.11], "nice": false, "zero": false}, "axis": null}, "y": {"field": "e", "type": "quantitative", "scale": {"domain": [0.2, 2.5], "nice": false, "zero": false}, "axis": null}, "x2": {"field": "x2"}, "y2": {"field": "e2"}}},
   {"data": {"name": "arrows"}, "transform": [{"filter": "datum.fig == 'I' && datum.part == 'C'"}], "mark": {"type": "point", "shape": "triangle-up", "filled": true, "color": "black", "opacity": 1, "size": 60}, "encoding": {"x": {"field": "x2", "type": "quantitative", "scale": {"domain": [0, 3.11], "nice": false, "zero": false}, "axis": null}, "y": {"field": "e2", "type": "quantitative", "scale": {"domain": [0.2, 2.5], "nice": false, "zero": false}, "axis": null}, "angle": {"field": "angle", "type": "quantitative", "scale": null}}}
  ]},
  {"width": 311, "height": 231, "resolve": {"axis": {"y": "independent"}}, "layer": [
   {"data": {"name": "kpath"}, "mark": {"type": "rule", "color": "black", "strokeWidth": 1.6}, "encoding": {"x": {"field": "x", "type": "quantitative", "scale": {"domain": [0, 3.11], "nice": false, "zero": false}, "axis": null}}},
   {"data": {"name": "IbC"}, "mark": {"type": "line", "color": "#0000ff", "strokeWidth": 2, "clip": true}, "encoding": {"x": {"field": "x", "type": "quantitative", "scale": {"domain": [0, 3.11], "nice": false, "zero": false}, "axis": null}, "y": {"field": "e", "type": "quantitative", "scale": {"domain": [0.2, 2.5], "nice": false, "zero": false}, "axis": {"orient": "left", "values": [0.5, 1, 1.5, 2, 2.5], "labels": false, "tickSize": -11, "tickWidth": 2, "tickColor": "black", "domain": false, "grid": false, "title": null}}, "detail": {"field": "band", "type": "nominal"}}},
   {"data": {"name": "IbC"}, "mark": {"type": "point", "opacity": 0}, "encoding": {"x": {"field": "x", "type": "quantitative", "scale": {"domain": [0, 3.11], "nice": false, "zero": false}, "axis": null}, "y": {"field": "e", "type": "quantitative", "scale": {"domain": [0.2, 2.5], "nice": false, "zero": false}, "axis": {"orient": "right", "values": [0.5, 1, 1.5, 2, 2.5], "labels": false, "tickSize": -11, "tickWidth": 2, "tickColor": "black", "domain": false, "grid": false, "title": null}}}},
   {"data": {"name": "titles"}, "transform": [{"filter": "datum.fig == 'I' && datum.col == 'b'"}], "mark": {"type": "text", "align": "left", "baseline": "alphabetic", "font": "Liberation Sans", "fontSize": 23, "fontWeight": "bold", "color": "black"}, "encoding": {"x": {"field": "x", "type": "quantitative", "scale": {"domain": [0, 3.11], "nice": false, "zero": false}, "axis": null}, "y": {"field": "e", "type": "quantitative", "scale": {"domain": [0.2, 2.5], "nice": false, "zero": false}, "axis": null}, "text": {"field": "text"}}},
   {"data": {"name": "subs"}, "transform": [{"filter": "datum.fig == 'I' && datum.col == 'b'"}], "mark": {"type": "text", "align": "left", "baseline": "alphabetic", "font": "Liberation Sans", "fontSize": 19, "fontWeight": "bold", "color": "black"}, "encoding": {"x": {"field": "x", "type": "quantitative", "scale": {"domain": [0, 3.11], "nice": false, "zero": false}, "axis": null}, "y": {"field": "e", "type": "quantitative", "scale": {"domain": [0.2, 2.5], "nice": false, "zero": false}, "axis": null}, "text": {"field": "text"}}}
  ]},
  {"width": 311, "height": 232, "resolve": {"axis": {"y": "independent"}}, "layer": [
   {"data": {"name": "kpath"}, "mark": {"type": "rule", "color": "black", "strokeWidth": 1.6}, "encoding": {"x": {"field": "x", "type": "quantitative", "scale": {"domain": [0, 3.11], "nice": false, "zero": false}, "axis": null}}},
   {"data": {"name": "klabSans"}, "transform": [{"filter": "datum.col == 'a'"}], "mark": {"type": "text", "align": "center", "baseline": "alphabetic", "dy": 31, "font": "Liberation Sans", "fontSize": 24, "fontWeight": "bold", "color": "black"}, "encoding": {"x": {"field": "x", "type": "quantitative", "scale": {"domain": [0, 3.11], "nice": false, "zero": false}, "axis": null}, "y": {"datum": -0.8, "type": "quantitative", "scale": {"domain": [-0.8, 0.1], "nice": false, "zero": false}, "axis": null}, "text": {"field": "text"}}},
   {"data": {"name": "klabSerif"}, "transform": [{"filter": "datum.col == 'a'"}], "mark": {"type": "text", "align": "center", "baseline": "alphabetic", "dy": 31, "font": "Liberation Serif", "fontSize": 26, "fontWeight": "normal", "color": "black"}, "encoding": {"x": {"field": "x", "type": "quantitative", "scale": {"domain": [0, 3.11], "nice": false, "zero": false}, "axis": null}, "y": {"datum": -0.8, "type": "quantitative", "scale": {"domain": [-0.8, 0.1], "nice": false, "zero": false}, "axis": null}, "text": {"field": "text"}}},
   {"data": {"name": "IaV"}, "mark": {"type": "line", "color": "black", "strokeWidth": 2, "clip": true}, "encoding": {"x": {"field": "x", "type": "quantitative", "scale": {"domain": [0, 3.11], "nice": false, "zero": false}, "axis": null}, "y": {"field": "e", "type": "quantitative", "scale": {"domain": [-0.8, 0.1], "nice": false, "zero": false}, "axis": {"orient": "left", "values": [-0.8, -0.6, -0.4, -0.2, 0], "labelExpr": "'' + datum.value", "tickSize": -11, "tickWidth": 2, "tickColor": "black", "domain": false, "grid": false, "labelFont": "Liberation Sans", "labelFontSize": 15, "labelFontWeight": "bold", "labelColor": "black", "labelPadding": 15, "title": null}}, "detail": {"field": "band", "type": "nominal"}}},
   {"data": {"name": "IaV"}, "mark": {"type": "point", "opacity": 0}, "encoding": {"x": {"field": "x", "type": "quantitative", "scale": {"domain": [0, 3.11], "nice": false, "zero": false}, "axis": null}, "y": {"field": "e", "type": "quantitative", "scale": {"domain": [-0.8, 0.1], "nice": false, "zero": false}, "axis": {"orient": "right", "values": [-0.8, -0.6, -0.4, -0.2, 0], "labels": false, "tickSize": -11, "tickWidth": 2, "tickColor": "black", "domain": false, "grid": false, "title": null}}}},
   {"data": {"name": "kets"}, "transform": [{"filter": "datum.fig == 'I' && datum.part == 'V'"}], "mark": {"type": "text", "align": "left", "baseline": "alphabetic", "font": "Liberation Sans", "fontSize": 20, "fontWeight": "bold", "color": "black"}, "encoding": {"x": {"field": "x", "type": "quantitative", "scale": {"domain": [0, 3.11], "nice": false, "zero": false}, "axis": null}, "y": {"field": "e", "type": "quantitative", "scale": {"domain": [-0.8, 0.1], "nice": false, "zero": false}, "axis": null}, "text": {"field": "text"}}},
   {"data": {"name": "ketends"}, "transform": [{"filter": "datum.fig == 'I' && datum.part == 'V'"}], "mark": {"type": "text", "align": "left", "baseline": "alphabetic", "font": "Liberation Sans", "fontSize": 20, "fontWeight": "normal", "color": "black"}, "encoding": {"x": {"field": "x", "type": "quantitative", "scale": {"domain": [0, 3.11], "nice": false, "zero": false}, "axis": null}, "y": {"field": "e", "type": "quantitative", "scale": {"domain": [-0.8, 0.1], "nice": false, "zero": false}, "axis": null}, "text": {"field": "text"}}},
   {"data": {"name": "arrows"}, "transform": [{"filter": "datum.fig == 'I' && datum.part == 'V'"}], "mark": {"type": "rule", "color": "black", "strokeWidth": 2.5}, "encoding": {"x": {"field": "x", "type": "quantitative", "scale": {"domain": [0, 3.11], "nice": false, "zero": false}, "axis": null}, "y": {"field": "e", "type": "quantitative", "scale": {"domain": [-0.8, 0.1], "nice": false, "zero": false}, "axis": null}, "x2": {"field": "x2"}, "y2": {"field": "e2"}}},
   {"data": {"name": "arrows"}, "transform": [{"filter": "datum.fig == 'I' && datum.part == 'V'"}], "mark": {"type": "point", "shape": "triangle-up", "filled": true, "color": "black", "opacity": 1, "size": 60}, "encoding": {"x": {"field": "x2", "type": "quantitative", "scale": {"domain": [0, 3.11], "nice": false, "zero": false}, "axis": null}, "y": {"field": "e2", "type": "quantitative", "scale": {"domain": [-0.8, 0.1], "nice": false, "zero": false}, "axis": null}, "angle": {"field": "angle", "type": "quantitative", "scale": null}}}
  ]},
  {"width": 311, "height": 232, "resolve": {"axis": {"y": "independent"}}, "layer": [
   {"data": {"name": "kpath"}, "mark": {"type": "rule", "color": "black", "strokeWidth": 1.6}, "encoding": {"x": {"field": "x", "type": "quantitative", "scale": {"domain": [0, 3.11], "nice": false, "zero": false}, "axis": null}}},
   {"data": {"name": "klabSans"}, "transform": [{"filter": "datum.col == 'b'"}], "mark": {"type": "text", "align": "center", "baseline": "alphabetic", "dy": 31, "font": "Liberation Sans", "fontSize": 24, "fontWeight": "bold", "color": "black"}, "encoding": {"x": {"field": "x", "type": "quantitative", "scale": {"domain": [0, 3.11], "nice": false, "zero": false}, "axis": null}, "y": {"datum": -0.8, "type": "quantitative", "scale": {"domain": [-0.8, 0.1], "nice": false, "zero": false}, "axis": null}, "text": {"field": "text"}}},
   {"data": {"name": "klabSerif"}, "transform": [{"filter": "datum.col == 'b'"}], "mark": {"type": "text", "align": "center", "baseline": "alphabetic", "dy": 31, "font": "Liberation Serif", "fontSize": 26, "fontWeight": "normal", "color": "black"}, "encoding": {"x": {"field": "x", "type": "quantitative", "scale": {"domain": [0, 3.11], "nice": false, "zero": false}, "axis": null}, "y": {"datum": -0.8, "type": "quantitative", "scale": {"domain": [-0.8, 0.1], "nice": false, "zero": false}, "axis": null}, "text": {"field": "text"}}},
   {"data": {"name": "IbV"}, "mark": {"type": "line", "color": "#0000ff", "strokeWidth": 2, "clip": true}, "encoding": {"x": {"field": "x", "type": "quantitative", "scale": {"domain": [0, 3.11], "nice": false, "zero": false}, "axis": null}, "y": {"field": "e", "type": "quantitative", "scale": {"domain": [-0.8, 0.1], "nice": false, "zero": false}, "axis": {"orient": "left", "values": [-0.8, -0.6, -0.4, -0.2, 0], "labels": false, "tickSize": -11, "tickWidth": 2, "tickColor": "black", "domain": false, "grid": false, "title": null}}, "detail": {"field": "band", "type": "nominal"}}},
   {"data": {"name": "IbV"}, "mark": {"type": "point", "opacity": 0}, "encoding": {"x": {"field": "x", "type": "quantitative", "scale": {"domain": [0, 3.11], "nice": false, "zero": false}, "axis": null}, "y": {"field": "e", "type": "quantitative", "scale": {"domain": [-0.8, 0.1], "nice": false, "zero": false}, "axis": {"orient": "right", "values": [-0.8, -0.6, -0.4, -0.2, 0], "labels": false, "tickSize": -11, "tickWidth": 2, "tickColor": "black", "domain": false, "grid": false, "title": null}}}}
  ]}
]},
{"columns": 2, "spacing": {"row": 0, "column": 31}, "bounds": "flush", "concat": [
  {"width": 311, "height": 231, "resolve": {"axis": {"y": "independent"}}, "layer": [
   {"data": {"name": "kpath"}, "mark": {"type": "rule", "color": "black", "strokeWidth": 1.6}, "encoding": {"x": {"field": "x", "type": "quantitative", "scale": {"domain": [0, 3.11], "nice": false, "zero": false}, "axis": null}}},
   {"data": {"name": "BraC"}, "mark": {"type": "line", "color": "black", "strokeWidth": 2, "clip": true}, "encoding": {"x": {"field": "x", "type": "quantitative", "scale": {"domain": [0, 3.11], "nice": false, "zero": false}, "axis": null}, "y": {"field": "e", "type": "quantitative", "scale": {"domain": [0.2, 2.5], "nice": false, "zero": false}, "axis": {"orient": "left", "values": [0.5, 1, 1.5, 2, 2.5], "labelExpr": "'' + datum.value", "tickSize": -11, "tickWidth": 2, "tickColor": "black", "domain": false, "grid": false, "labelFont": "Liberation Sans", "labelFontSize": 15, "labelFontWeight": "bold", "labelColor": "black", "labelPadding": 15, "title": "Energy [eV]", "titleFont": "Liberation Sans", "titleFontSize": 26, "titleFontWeight": "bold", "titleColor": "black", "titleX": -40, "titleY": 212, "titleAngle": -90, "titleAlign": "center", "titleBaseline": "alphabetic"}}, "detail": {"field": "band", "type": "nominal"}}},
   {"data": {"name": "BraC"}, "mark": {"type": "point", "opacity": 0}, "encoding": {"x": {"field": "x", "type": "quantitative", "scale": {"domain": [0, 3.11], "nice": false, "zero": false}, "axis": null}, "y": {"field": "e", "type": "quantitative", "scale": {"domain": [0.2, 2.5], "nice": false, "zero": false}, "axis": {"orient": "right", "values": [0.5, 1, 1.5, 2, 2.5], "labels": false, "tickSize": -11, "tickWidth": 2, "tickColor": "black", "domain": false, "grid": false, "title": null}}}},
   {"data": {"name": "titles"}, "transform": [{"filter": "datum.fig == 'Br' && datum.col == 'a'"}], "mark": {"type": "text", "align": "left", "baseline": "alphabetic", "font": "Liberation Sans", "fontSize": 23, "fontWeight": "bold", "color": "black"}, "encoding": {"x": {"field": "x", "type": "quantitative", "scale": {"domain": [0, 3.11], "nice": false, "zero": false}, "axis": null}, "y": {"field": "e", "type": "quantitative", "scale": {"domain": [0.2, 2.5], "nice": false, "zero": false}, "axis": null}, "text": {"field": "text"}}},
   {"data": {"name": "subs"}, "transform": [{"filter": "datum.fig == 'Br' && datum.col == 'a'"}], "mark": {"type": "text", "align": "left", "baseline": "alphabetic", "font": "Liberation Sans", "fontSize": 17, "fontWeight": "bold", "color": "black"}, "encoding": {"x": {"field": "x", "type": "quantitative", "scale": {"domain": [0, 3.11], "nice": false, "zero": false}, "axis": null}, "y": {"field": "e", "type": "quantitative", "scale": {"domain": [0.2, 2.5], "nice": false, "zero": false}, "axis": null}, "text": {"field": "text"}}},
   {"data": {"name": "kets"}, "transform": [{"filter": "datum.fig == 'Br' && datum.part == 'C'"}], "mark": {"type": "text", "align": "left", "baseline": "alphabetic", "font": "Liberation Sans", "fontSize": 20, "fontWeight": "bold", "color": "black"}, "encoding": {"x": {"field": "x", "type": "quantitative", "scale": {"domain": [0, 3.11], "nice": false, "zero": false}, "axis": null}, "y": {"field": "e", "type": "quantitative", "scale": {"domain": [0.2, 2.5], "nice": false, "zero": false}, "axis": null}, "text": {"field": "text"}}},
   {"data": {"name": "ketends"}, "transform": [{"filter": "datum.fig == 'Br' && datum.part == 'C'"}], "mark": {"type": "text", "align": "left", "baseline": "alphabetic", "font": "Liberation Sans", "fontSize": 20, "fontWeight": "normal", "color": "black"}, "encoding": {"x": {"field": "x", "type": "quantitative", "scale": {"domain": [0, 3.11], "nice": false, "zero": false}, "axis": null}, "y": {"field": "e", "type": "quantitative", "scale": {"domain": [0.2, 2.5], "nice": false, "zero": false}, "axis": null}, "text": {"field": "text"}}},
   {"data": {"name": "arrows"}, "transform": [{"filter": "datum.fig == 'Br' && datum.part == 'C'"}], "mark": {"type": "rule", "color": "black", "strokeWidth": 2.5}, "encoding": {"x": {"field": "x", "type": "quantitative", "scale": {"domain": [0, 3.11], "nice": false, "zero": false}, "axis": null}, "y": {"field": "e", "type": "quantitative", "scale": {"domain": [0.2, 2.5], "nice": false, "zero": false}, "axis": null}, "x2": {"field": "x2"}, "y2": {"field": "e2"}}},
   {"data": {"name": "arrows"}, "transform": [{"filter": "datum.fig == 'Br' && datum.part == 'C'"}], "mark": {"type": "point", "shape": "triangle-up", "filled": true, "color": "black", "opacity": 1, "size": 60}, "encoding": {"x": {"field": "x2", "type": "quantitative", "scale": {"domain": [0, 3.11], "nice": false, "zero": false}, "axis": null}, "y": {"field": "e2", "type": "quantitative", "scale": {"domain": [0.2, 2.5], "nice": false, "zero": false}, "axis": null}, "angle": {"field": "angle", "type": "quantitative", "scale": null}}}
  ]},
  {"width": 311, "height": 231, "resolve": {"axis": {"y": "independent"}}, "layer": [
   {"data": {"name": "kpath"}, "mark": {"type": "rule", "color": "black", "strokeWidth": 1.6}, "encoding": {"x": {"field": "x", "type": "quantitative", "scale": {"domain": [0, 3.11], "nice": false, "zero": false}, "axis": null}}},
   {"data": {"name": "BrbC"}, "mark": {"type": "line", "color": "#0000ff", "strokeWidth": 2, "clip": true}, "encoding": {"x": {"field": "x", "type": "quantitative", "scale": {"domain": [0, 3.11], "nice": false, "zero": false}, "axis": null}, "y": {"field": "e", "type": "quantitative", "scale": {"domain": [0.2, 2.5], "nice": false, "zero": false}, "axis": {"orient": "left", "values": [0.5, 1, 1.5, 2, 2.5], "labels": false, "tickSize": -11, "tickWidth": 2, "tickColor": "black", "domain": false, "grid": false, "title": null}}, "detail": {"field": "band", "type": "nominal"}}},
   {"data": {"name": "BrbC"}, "mark": {"type": "point", "opacity": 0}, "encoding": {"x": {"field": "x", "type": "quantitative", "scale": {"domain": [0, 3.11], "nice": false, "zero": false}, "axis": null}, "y": {"field": "e", "type": "quantitative", "scale": {"domain": [0.2, 2.5], "nice": false, "zero": false}, "axis": {"orient": "right", "values": [0.5, 1, 1.5, 2, 2.5], "labels": false, "tickSize": -11, "tickWidth": 2, "tickColor": "black", "domain": false, "grid": false, "title": null}}}},
   {"data": {"name": "titles"}, "transform": [{"filter": "datum.fig == 'Br' && datum.col == 'b'"}], "mark": {"type": "text", "align": "left", "baseline": "alphabetic", "font": "Liberation Sans", "fontSize": 23, "fontWeight": "bold", "color": "black"}, "encoding": {"x": {"field": "x", "type": "quantitative", "scale": {"domain": [0, 3.11], "nice": false, "zero": false}, "axis": null}, "y": {"field": "e", "type": "quantitative", "scale": {"domain": [0.2, 2.5], "nice": false, "zero": false}, "axis": null}, "text": {"field": "text"}}},
   {"data": {"name": "subs"}, "transform": [{"filter": "datum.fig == 'Br' && datum.col == 'b'"}], "mark": {"type": "text", "align": "left", "baseline": "alphabetic", "font": "Liberation Sans", "fontSize": 17, "fontWeight": "bold", "color": "black"}, "encoding": {"x": {"field": "x", "type": "quantitative", "scale": {"domain": [0, 3.11], "nice": false, "zero": false}, "axis": null}, "y": {"field": "e", "type": "quantitative", "scale": {"domain": [0.2, 2.5], "nice": false, "zero": false}, "axis": null}, "text": {"field": "text"}}}
  ]},
  {"width": 311, "height": 232, "resolve": {"axis": {"y": "independent"}}, "layer": [
   {"data": {"name": "kpath"}, "mark": {"type": "rule", "color": "black", "strokeWidth": 1.6}, "encoding": {"x": {"field": "x", "type": "quantitative", "scale": {"domain": [0, 3.11], "nice": false, "zero": false}, "axis": null}}},
   {"data": {"name": "klabSans"}, "transform": [{"filter": "datum.col == 'a'"}], "mark": {"type": "text", "align": "center", "baseline": "alphabetic", "dy": 31, "font": "Liberation Sans", "fontSize": 24, "fontWeight": "bold", "color": "black"}, "encoding": {"x": {"field": "x", "type": "quantitative", "scale": {"domain": [0, 3.11], "nice": false, "zero": false}, "axis": null}, "y": {"datum": -0.8, "type": "quantitative", "scale": {"domain": [-0.8, 0.1], "nice": false, "zero": false}, "axis": null}, "text": {"field": "text"}}},
   {"data": {"name": "klabSerif"}, "transform": [{"filter": "datum.col == 'a'"}], "mark": {"type": "text", "align": "center", "baseline": "alphabetic", "dy": 31, "font": "Liberation Serif", "fontSize": 26, "fontWeight": "normal", "color": "black"}, "encoding": {"x": {"field": "x", "type": "quantitative", "scale": {"domain": [0, 3.11], "nice": false, "zero": false}, "axis": null}, "y": {"datum": -0.8, "type": "quantitative", "scale": {"domain": [-0.8, 0.1], "nice": false, "zero": false}, "axis": null}, "text": {"field": "text"}}},
   {"data": {"name": "BraV"}, "mark": {"type": "line", "color": "black", "strokeWidth": 2, "clip": true}, "encoding": {"x": {"field": "x", "type": "quantitative", "scale": {"domain": [0, 3.11], "nice": false, "zero": false}, "axis": null}, "y": {"field": "e", "type": "quantitative", "scale": {"domain": [-0.8, 0.1], "nice": false, "zero": false}, "axis": {"orient": "left", "values": [-0.8, -0.6, -0.4, -0.2, 0], "labelExpr": "'' + datum.value", "tickSize": -11, "tickWidth": 2, "tickColor": "black", "domain": false, "grid": false, "labelFont": "Liberation Sans", "labelFontSize": 15, "labelFontWeight": "bold", "labelColor": "black", "labelPadding": 15, "title": null}}, "detail": {"field": "band", "type": "nominal"}}},
   {"data": {"name": "BraV"}, "mark": {"type": "point", "opacity": 0}, "encoding": {"x": {"field": "x", "type": "quantitative", "scale": {"domain": [0, 3.11], "nice": false, "zero": false}, "axis": null}, "y": {"field": "e", "type": "quantitative", "scale": {"domain": [-0.8, 0.1], "nice": false, "zero": false}, "axis": {"orient": "right", "values": [-0.8, -0.6, -0.4, -0.2, 0], "labels": false, "tickSize": -11, "tickWidth": 2, "tickColor": "black", "domain": false, "grid": false, "title": null}}}},
   {"data": {"name": "kets"}, "transform": [{"filter": "datum.fig == 'Br' && datum.part == 'V'"}], "mark": {"type": "text", "align": "left", "baseline": "alphabetic", "font": "Liberation Sans", "fontSize": 20, "fontWeight": "bold", "color": "black"}, "encoding": {"x": {"field": "x", "type": "quantitative", "scale": {"domain": [0, 3.11], "nice": false, "zero": false}, "axis": null}, "y": {"field": "e", "type": "quantitative", "scale": {"domain": [-0.8, 0.1], "nice": false, "zero": false}, "axis": null}, "text": {"field": "text"}}},
   {"data": {"name": "ketends"}, "transform": [{"filter": "datum.fig == 'Br' && datum.part == 'V'"}], "mark": {"type": "text", "align": "left", "baseline": "alphabetic", "font": "Liberation Sans", "fontSize": 20, "fontWeight": "normal", "color": "black"}, "encoding": {"x": {"field": "x", "type": "quantitative", "scale": {"domain": [0, 3.11], "nice": false, "zero": false}, "axis": null}, "y": {"field": "e", "type": "quantitative", "scale": {"domain": [-0.8, 0.1], "nice": false, "zero": false}, "axis": null}, "text": {"field": "text"}}},
   {"data": {"name": "arrows"}, "transform": [{"filter": "datum.fig == 'Br' && datum.part == 'V'"}], "mark": {"type": "rule", "color": "black", "strokeWidth": 2.5}, "encoding": {"x": {"field": "x", "type": "quantitative", "scale": {"domain": [0, 3.11], "nice": false, "zero": false}, "axis": null}, "y": {"field": "e", "type": "quantitative", "scale": {"domain": [-0.8, 0.1], "nice": false, "zero": false}, "axis": null}, "x2": {"field": "x2"}, "y2": {"field": "e2"}}},
   {"data": {"name": "arrows"}, "transform": [{"filter": "datum.fig == 'Br' && datum.part == 'V'"}], "mark": {"type": "point", "shape": "triangle-up", "filled": true, "color": "black", "opacity": 1, "size": 60}, "encoding": {"x": {"field": "x2", "type": "quantitative", "scale": {"domain": [0, 3.11], "nice": false, "zero": false}, "axis": null}, "y": {"field": "e2", "type": "quantitative", "scale": {"domain": [-0.8, 0.1], "nice": false, "zero": false}, "axis": null}, "angle": {"field": "angle", "type": "quantitative", "scale": null}}}
  ]},
  {"width": 311, "height": 232, "resolve": {"axis": {"y": "independent"}}, "layer": [
   {"data": {"name": "kpath"}, "mark": {"type": "rule", "color": "black", "strokeWidth": 1.6}, "encoding": {"x": {"field": "x", "type": "quantitative", "scale": {"domain": [0, 3.11], "nice": false, "zero": false}, "axis": null}}},
   {"data": {"name": "klabSans"}, "transform": [{"filter": "datum.col == 'b'"}], "mark": {"type": "text", "align": "center", "baseline": "alphabetic", "dy": 31, "font": "Liberation Sans", "fontSize": 24, "fontWeight": "bold", "color": "black"}, "encoding": {"x": {"field": "x", "type": "quantitative", "scale": {"domain": [0, 3.11], "nice": false, "zero": false}, "axis": null}, "y": {"datum": -0.8, "type": "quantitative", "scale": {"domain": [-0.8, 0.1], "nice": false, "zero": false}, "axis": null}, "text": {"field": "text"}}},
   {"data": {"name": "klabSerif"}, "transform": [{"filter": "datum.col == 'b'"}], "mark": {"type": "text", "align": "center", "baseline": "alphabetic", "dy": 31, "font": "Liberation Serif", "fontSize": 26, "fontWeight": "normal", "color": "black"}, "encoding": {"x": {"field": "x", "type": "quantitative", "scale": {"domain": [0, 3.11], "nice": false, "zero": false}, "axis": null}, "y": {"datum": -0.8, "type": "quantitative", "scale": {"domain": [-0.8, 0.1], "nice": false, "zero": false}, "axis": null}, "text": {"field": "text"}}},
   {"data": {"name": "BrbV"}, "mark": {"type": "line", "color": "#0000ff", "strokeWidth": 2, "clip": true}, "encoding": {"x": {"field": "x", "type": "quantitative", "scale": {"domain": [0, 3.11], "nice": false, "zero": false}, "axis": null}, "y": {"field": "e", "type": "quantitative", "scale": {"domain": [-0.8, 0.1], "nice": false, "zero": false}, "axis": {"orient": "left", "values": [-0.8, -0.6, -0.4, -0.2, 0], "labels": false, "tickSize": -11, "tickWidth": 2, "tickColor": "black", "domain": false, "grid": false, "title": null}}, "detail": {"field": "band", "type": "nominal"}}},
   {"data": {"name": "BrbV"}, "mark": {"type": "point", "opacity": 0}, "encoding": {"x": {"field": "x", "type": "quantitative", "scale": {"domain": [0, 3.11], "nice": false, "zero": false}, "axis": null}, "y": {"field": "e", "type": "quantitative", "scale": {"domain": [-0.8, 0.1], "nice": false, "zero": false}, "axis": {"orient": "right", "values": [-0.8, -0.6, -0.4, -0.2, 0], "labels": false, "tickSize": -11, "tickWidth": 2, "tickColor": "black", "domain": false, "grid": false, "title": null}}}}
  ]}
]}
]
}
